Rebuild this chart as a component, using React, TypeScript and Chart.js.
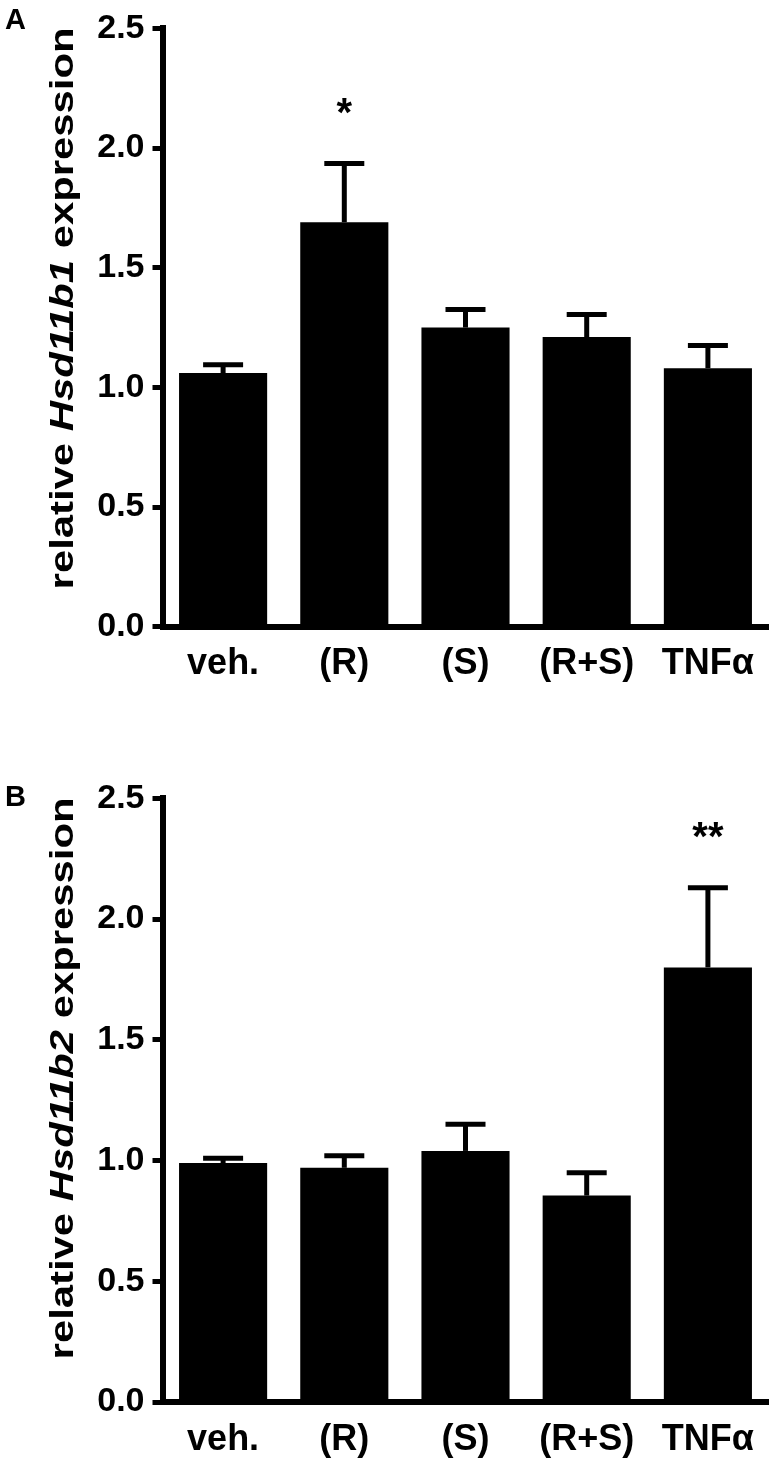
import React, { useEffect, useRef } from 'react';
import { Chart, registerables } from 'chart.js';

Chart.register(...registerables);

// ---- data ----
const categories = ['veh.', '(R)', '(S)', '(R+S)', 'TNFα'];
const yTickLabels = ['0.0', '0.5', '1.0', '1.5', '2.0', '2.5'];

const hsd1Means = [1.06, 1.69, 1.25, 1.21, 1.08];
const hsd1Errors = [0.035, 0.245, 0.075, 0.095, 0.095];
const hsd1Sig = ['', '*', '', '', ''];

const hsd2Means = [0.99, 0.97, 1.04, 0.855, 1.8];
const hsd2Errors = [0.02, 0.05, 0.11, 0.095, 0.33];
const hsd2Sig = ['', '', '', '', '**'];

const FONT = '"Liberation Sans", Arial, Helvetica, sans-serif';

const errorBarPlugin = {
  id: 'errorBars',
  afterDatasetsDraw(chart: any, _args: any, opts: any) {
    const meta = chart.getDatasetMeta(0);
    const yScale = chart.scales.y;
    const ctx = chart.ctx;
    ctx.save();
    ctx.strokeStyle = '#000';
    ctx.fillStyle = '#000';
    meta.data.forEach((bar: any, i: number) => {
      const mean = chart.data.datasets[0].data[i];
      const top = yScale.getPixelForValue(mean + opts.errors[i]);
      const x = bar.x;
      ctx.lineWidth = 5;
      ctx.beginPath();
      ctx.moveTo(x, bar.y);
      ctx.lineTo(x, top);
      ctx.stroke();
      ctx.beginPath();
      ctx.moveTo(x - 20, top);
      ctx.lineTo(x + 20, top);
      ctx.stroke();
      if (opts.sig[i]) {
        ctx.font = `bold 40px ${FONT}`;
        ctx.textAlign = 'center';
        ctx.textBaseline = 'alphabetic';
        ctx.fillText(opts.sig[i], x, top - 60 + 22);
      }
    });
    ctx.restore();
  },
};

const mixedTitlePlugin = {
  id: 'mixedTitle',
  afterDraw(chart: any, _args: any, opts: any) {
    const { ctx, chartArea } = chart;
    const segs = opts.segments as { text: string; italic: boolean }[];
    const fontOf = (s: { italic: boolean }) =>
      `${s.italic ? 'italic ' : ''}bold ${opts.size}px ${FONT}`;
    ctx.save();
    let total = 0;
    const widths = segs.map((s) => {
      ctx.font = fontOf(s);
      const w = ctx.measureText(s.text).width;
      total += w;
      return w;
    });
    const sx = opts.length / total;
    ctx.translate(opts.baselineX, chartArea.top + opts.centerOffset);
    ctx.rotate(-Math.PI / 2);
    ctx.scale(sx, 1);
    ctx.fillStyle = '#000';
    ctx.textBaseline = 'alphabetic';
    ctx.textAlign = 'left';
    let x = -total / 2;
    segs.forEach((s, i) => {
      ctx.font = fontOf(s);
      ctx.fillText(s.text, x, 0);
      x += widths[i];
    });
    ctx.restore();
  },
};

const letterPlugin = {
  id: 'panelLetter',
  afterDraw(chart: any, _args: any, opts: any) {
    const ctx = chart.ctx;
    ctx.save();
    ctx.fillStyle = '#000';
    ctx.font = `bold 29px ${FONT}`;
    ctx.textBaseline = 'alphabetic';
    ctx.textAlign = 'left';
    ctx.fillText(opts.text, opts.x, opts.y);
    ctx.restore();
  },
};

type PanelProps = {
  top: number;
  height: number;
  padTop: number;
  xAxisH: number;
  letter: string;
  letterY: number;
  means: number[];
  errors: number[];
  sig: string[];
  gene: string;
};

function Panel(p: PanelProps) {
  const ref = useRef<HTMLCanvasElement | null>(null);
  useEffect(() => {
    if (!ref.current) return;
    const chart = new Chart(ref.current, {
      type: 'bar',
      data: {
        labels: categories,
        datasets: [
          {
            data: p.means,
            backgroundColor: '#000',
            borderWidth: 0,
            barPercentage: 0.727,
            categoryPercentage: 1,
          },
        ],
      },
      options: {
        responsive: false,
        animation: false,
        devicePixelRatio: 1,
        layout: { padding: { top: p.padTop, right: 8.5, bottom: 0, left: 0 } },
        plugins: {
          legend: { display: false },
          tooltip: { enabled: false },
          title: { display: false },
          errorBars: { errors: p.errors, sig: p.sig },
          mixedTitle: {
            segments: [
              { text: 'relative ', italic: false },
              { text: p.gene, italic: true },
              { text: ' expression', italic: false },
            ],
            size: 34,
            length: 562,
            baselineX: 73,
            centerOffset: 280,
          },
          panelLetter: { text: p.letter, x: 5, y: p.letterY },
        } as any,
        scales: {
          x: {
            type: 'category',
            offset: true,
            grid: { display: false, drawTicks: false },
            border: { display: true, color: '#000', width: 6 },
            ticks: {
              color: '#000',
              font: { family: FONT, size: 36, weight: 'bold' },
              padding: 16,
              maxRotation: 0,
              autoSkip: false,
            },
            afterFit: (s: any) => {
              s.height = p.xAxisH;
            },
          },
          y: {
            min: 0,
            max: 2.5,
            ticks: {
              stepSize: 0.5,
              callback: (_v: any, i: number) => yTickLabels[i],
              color: '#000',
              font: { family: FONT, size: 34, weight: 'bold' },
              padding: 8,
            },
            grid: {
              display: true,
              drawOnChartArea: false,
              drawTicks: true,
              tickLength: 10,
              tickWidth: 5,
              tickColor: '#000',
            },
            border: { display: true, color: '#000', width: 6 },
            afterFit: (s: any) => {
              s.width = 162.5;
            },
          },
        } as any,
      },
      plugins: [errorBarPlugin, mixedTitlePlugin, letterPlugin],
    });
    return () => chart.destroy();
  }, []);
  return (
    <canvas
      ref={ref}
      width={777}
      height={p.height}
      style={{ position: 'absolute', left: 0, top: p.top, width: 777, height: p.height }}
    />
  );
}

export default function App() {
  return (
    <div style={{ background: '#fff' }}>
      <Panel
        top={0}
        height={700}
        padTop={21.7}
        xAxisH={73.3}
        letter="A"
        letterY={29}
        means={hsd1Means}
        errors={hsd1Errors}
        sig={hsd1Sig}
        gene="Hsd11b1"
      />
      <Panel
        top={770}
        height={695}
        padTop={22}
        xAxisH={63}
        letter="B"
        letterY={36}
        means={hsd2Means}
        errors={hsd2Errors}
        sig={hsd2Sig}
        gene="Hsd11b2"
      />
    </div>
  );
}
